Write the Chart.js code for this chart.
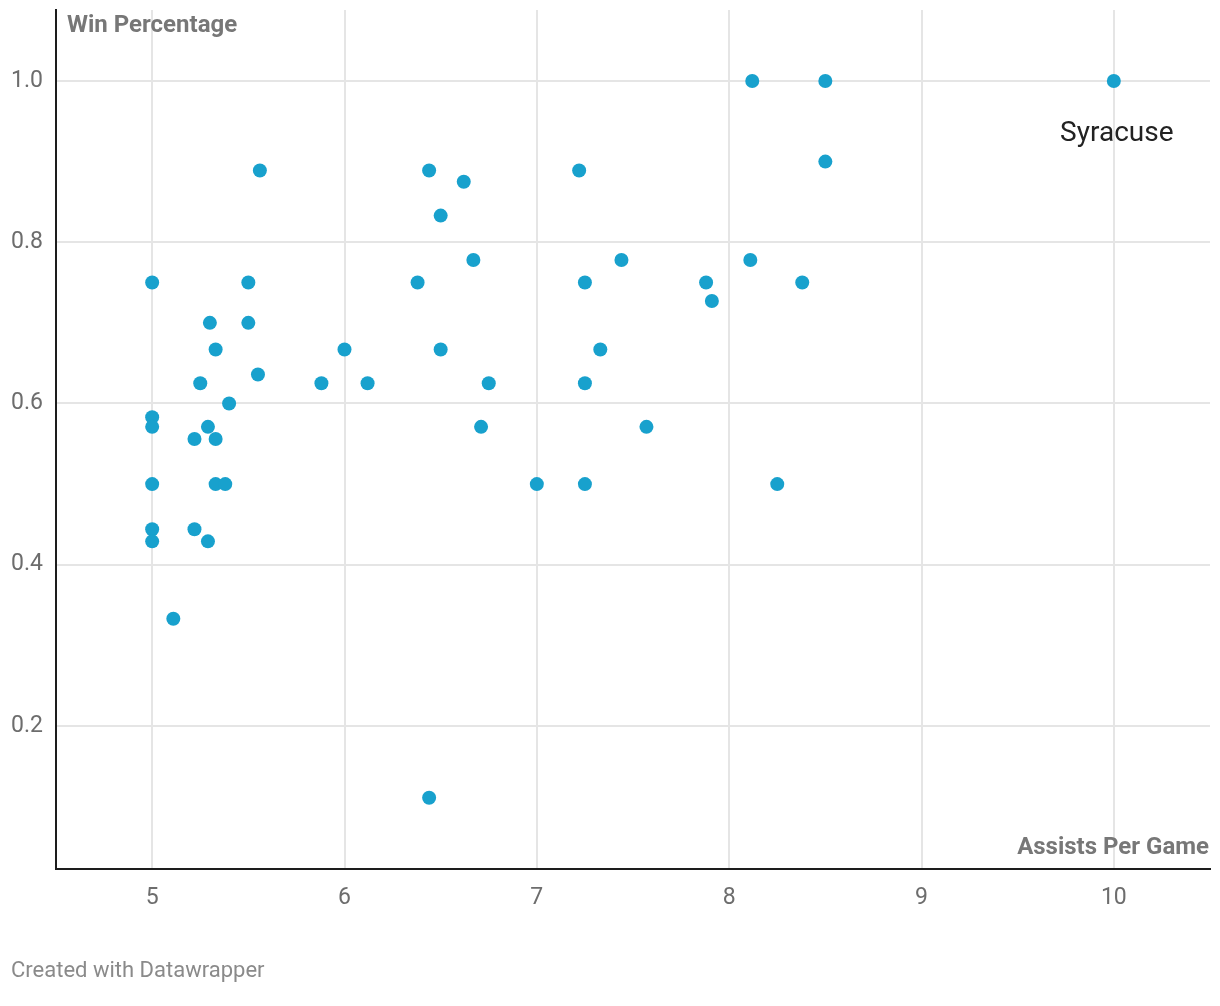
<!DOCTYPE html>
<html>
<head>
<meta charset="utf-8">
<script src="https://cdn.jsdelivr.net/npm/chart.js@4"></script>
<style>
  html, body { margin: 0; padding: 0; background: #fff; }
  #wrap { position: relative; width: 1220px; height: 1006px; }
  canvas { display: block; }
</style>
</head>
<body>
<div id="wrap"><canvas id="scatter" width="1220" height="1006"></canvas></div>
<script>
// --------------- Data ---------------
const ASSISTS = [
  10.0, 8.12, 8.5, 8.5, 5.56, 6.44, 6.62, 6.5, 7.22,
  6.67, 7.44, 8.11, 5.0, 5.5, 6.38, 7.25, 7.88, 8.38, 7.91,
  5.3, 5.5, 5.33, 6.0, 6.5, 7.33, 5.55, 5.25, 5.88, 6.12,
  6.75, 7.25, 5.4, 5.0, 5.0, 5.29, 6.71, 7.57, 5.22, 5.33,
  5.0, 5.33, 5.38, 7.0, 7.25, 8.25, 5.0, 5.22, 5.0, 5.29,
  5.11, 6.44,
];
const WIN_PCT = [
  1.0, 1.0, 1.0, 0.9, 0.889, 0.889, 0.875, 0.833, 0.889,
  0.778, 0.778, 0.778, 0.75, 0.75, 0.75, 0.75, 0.75, 0.75, 0.727,
  0.7, 0.7, 0.667, 0.667, 0.667, 0.667, 0.636, 0.625, 0.625, 0.625,
  0.625, 0.625, 0.6, 0.583, 0.571, 0.571, 0.571, 0.571, 0.556, 0.556,
  0.5, 0.5, 0.5, 0.5, 0.5, 0.5, 0.444, 0.444, 0.429, 0.429,
  0.333, 0.111,
];
const X_TICKS = [5, 6, 7, 8, 9, 10];
const Y_TICKS = [0.2, 0.4, 0.6, 0.8, 1.0];
const LABELLED = { x: 10, y: 1.0, text: 'Syracuse' };

const DOT   = '#18a1cd';
const GRID  = '#e5e5e5';
const AXIS  = '#1d1d1d';
const TICK  = '#6d6d6d';
const FONT  = 'Roboto, "Noto Sans", sans-serif';

// --------------- Overlay text (axis titles, label, credit) ---------------
const overlay = {
  id: 'overlay',
  afterDraw(chart) {
    const { ctx, chartArea: a, scales: { x, y } } = chart;
    ctx.save();
    ctx.textBaseline = 'middle';

    ctx.fillStyle = '#777777';
    ctx.font = `bold 24px ${FONT}`;
    ctx.textAlign = 'left';
    ctx.fillText('Win Percentage', a.left + 11, a.top + 16);
    ctx.textAlign = 'right';
    ctx.fillText('Assists Per Game', a.right - 1, a.bottom - 21);

    ctx.fillStyle = '#222222';
    ctx.font = `28px ${FONT}`;
    ctx.textAlign = 'center';
    ctx.fillText(LABELLED.text, x.getPixelForValue(LABELLED.x) + 3, y.getPixelForValue(LABELLED.y) + 53);

    ctx.fillStyle = '#8a8a8a';
    ctx.font = `22px ${FONT}`;
    ctx.textAlign = 'left';
    ctx.fillText('Created with Datawrapper', 11, 971);
    ctx.restore();
  },
};

// --------------- Chart ---------------
new Chart(document.getElementById('scatter').getContext('2d'), {
  type: 'scatter',
  data: {
    datasets: [{
      data: ASSISTS.map((v, i) => ({ x: v, y: WIN_PCT[i] })),
      backgroundColor: DOT,
      borderWidth: 0,
      pointRadius: 7,
      pointHoverRadius: 7,
    }],
  },
  options: {
    responsive: false,
    animation: false,
    devicePixelRatio: 1,
    layout: { padding: { top: 10, right: 10, left: 0, bottom: 0 } },
    plugins: { legend: { display: false }, tooltip: { enabled: false } },
    scales: {
      x: {
        type: 'linear',
        min: 4.5,
        max: 10.5,
        afterBuildTicks: s => { s.ticks = X_TICKS.map(v => ({ value: v })); },
        afterFit: s => { s.height = 137; s.paddingLeft = 0; s.paddingRight = 0; },
        grid:   { color: GRID, lineWidth: 2, drawTicks: false },
        border: { display: true, color: AXIS, width: 2 },
        ticks:  { color: TICK, font: { family: FONT, size: 23 }, padding: 15 },
      },
      y: {
        type: 'linear',
        min: 0.0226,
        max: 1.088,
        afterBuildTicks: s => { s.ticks = Y_TICKS.map(v => ({ value: v })); },
        afterFit: s => { s.width = 56; s.paddingTop = 0; s.paddingBottom = 0; },
        grid:   { color: GRID, lineWidth: 2, drawTicks: false },
        border: { display: true, color: AXIS, width: 2 },
        ticks:  {
          color: TICK,
          font: { family: FONT, size: 23 },
          padding: 13,
          callback: v => v.toFixed(1),
        },
      },
    },
  },
  plugins: [overlay],
});
</script>
</body>
</html>
